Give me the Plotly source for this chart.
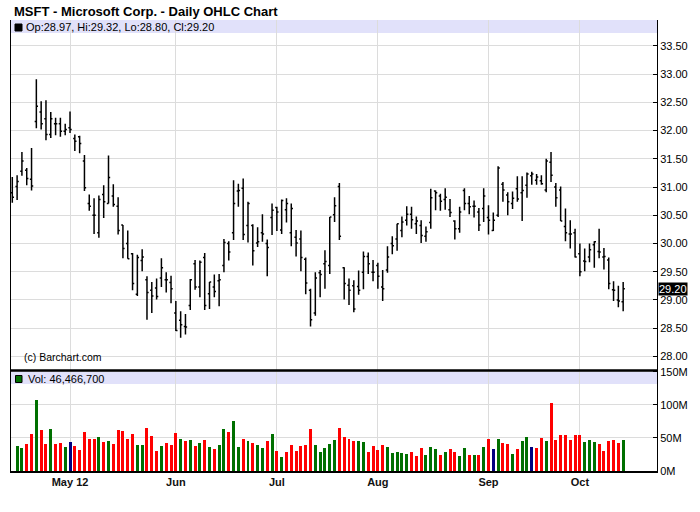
import plotly.graph_objects as go

# ---------------- data (trading-day index 0..127, Apr 13 - Oct 12 2012) ----------------
month_tick_idx = [12, 34, 55, 76, 99, 118]
month_labels = ["May 12", "Jun", "Jul", "Aug", "Sep", "Oct"]

opens = [30.90, 31.01, 31.28, 31.30, 31.14, 32.16, 32.33, 32.21, 31.93, 32.12,
         32.12, 31.99, 32.05, 31.86, 31.89, 31.46, 30.71, 30.50, 30.19, 30.87,
         30.71, 30.84, 30.66, 30.33, 30.00, 29.82, 29.10, 29.70, 29.36, 29.17,
         29.21, 29.39, 29.36, 29.31, 28.77, 28.64, 28.53, 28.90, 29.64, 29.23,
         29.75, 29.11, 29.23, 29.34, 29.61, 30.00, 30.19, 30.93, 30.98, 30.32,
         30.32, 30.01, 30.19, 30.00, 30.46, 30.64, 30.24, 30.60, 30.19, 30.11,
         30.08, 29.72, 29.17, 28.77, 29.48, 29.64, 29.61, 30.51, 31.01, 29.57,
         29.26, 29.25, 29.24, 29.49, 29.77, 29.49, 29.61, 29.23, 29.53, 30.00,
         30.08, 30.23, 30.41, 30.52, 30.35, 30.32, 30.13, 30.37, 30.93, 30.84,
         30.78, 30.60, 30.40, 30.26, 30.94, 30.71, 30.66, 30.56, 30.62, 30.46,
         30.23, 30.50, 31.05, 30.86, 30.71, 30.97, 30.90, 31.03, 31.20, 31.12,
         31.11, 30.95, 31.44, 31.00, 30.95, 30.30, 30.17, 30.19, 29.82, 29.69,
         29.76, 29.98, 29.86, 29.76, 29.71, 29.18, 29.00, 28.97]
highs = [31.18, 31.21, 31.62, 31.34, 31.69, 32.91, 32.52, 32.54, 32.33, 32.23,
         32.23, 32.12, 32.34, 31.93, 31.91, 31.57, 30.87, 30.80, 30.85, 31.03,
         31.56, 31.05, 30.82, 30.33, 30.23, 29.83, 29.80, 29.90, 29.42, 29.32,
         29.38, 29.74, 29.49, 29.43, 28.98, 28.80, 28.75, 29.37, 29.71, 29.70,
         29.83, 29.32, 29.45, 29.46, 30.08, 30.04, 31.12, 31.06, 31.15, 30.74,
         30.34, 30.29, 30.52, 30.07, 30.71, 30.65, 30.78, 30.80, 30.71, 30.24,
         30.23, 29.75, 29.20, 29.49, 29.53, 29.88, 30.47, 30.82, 31.07, 29.58,
         29.38, 29.35, 29.52, 29.86, 29.84, 29.71, 29.66, 29.53, 29.95, 30.13,
         30.35, 30.48, 30.66, 30.65, 30.48, 30.41, 30.30, 30.97, 30.94, 30.88,
         30.98, 30.79, 30.41, 30.65, 30.98, 30.84, 30.76, 30.63, 30.98, 30.68,
         30.55, 31.37, 31.09, 30.91, 30.92, 31.19, 31.19, 31.26, 31.27, 31.23,
         31.21, 31.50, 31.62, 31.07, 31.01, 30.62, 30.41, 30.26, 30.00, 29.91,
         30.00, 30.04, 30.26, 29.92, 29.75, 29.33, 29.25, 29.32]
lows = [30.72, 30.77, 31.20, 31.03, 30.94, 32.04, 32.02, 31.83, 31.87, 31.92,
        31.89, 31.92, 31.96, 31.64, 31.60, 30.93, 30.58, 30.17, 30.10, 30.45,
        30.71, 30.65, 30.16, 29.74, 29.73, 29.17, 29.07, 29.51, 28.65, 28.77,
        29.01, 29.23, 29.13, 28.94, 28.45, 28.33, 28.39, 28.82, 29.18, 29.05,
        28.82, 28.84, 29.05, 28.89, 29.49, 29.70, 30.06, 30.65, 30.06, 30.02,
        29.61, 29.94, 30.03, 29.42, 30.15, 30.22, 30.17, 30.37, 29.95, 29.77,
        29.51, 29.10, 28.53, 28.72, 29.05, 29.20, 29.46, 30.38, 30.06, 29.01,
        28.91, 28.78, 29.09, 29.19, 29.46, 29.33, 29.20, 28.98, 29.48, 29.81,
        29.87, 30.11, 30.32, 30.26, 30.17, 30.01, 30.03, 30.26, 30.59, 30.58,
        30.60, 30.47, 30.07, 30.19, 30.59, 30.52, 30.46, 30.22, 30.38, 30.16,
        30.22, 30.47, 30.74, 30.50, 30.61, 30.74, 30.40, 30.81, 31.04, 31.04,
        31.04, 30.91, 31.09, 30.65, 30.40, 30.04, 29.91, 29.75, 29.42, 29.51,
        29.67, 29.57, 29.74, 29.54, 29.19, 28.98, 28.87, 28.80]
closes = [30.82, 31.10, 31.46, 31.15, 31.02, 32.43, 32.12, 31.93, 32.21, 32.12,
          31.99, 32.02, 32.02, 31.81, 31.77, 30.99, 30.66, 30.50, 30.78, 30.74,
          31.17, 30.69, 30.23, 29.91, 29.73, 29.29, 29.75, 29.76, 29.13, 29.07,
          29.06, 29.57, 29.36, 29.20, 28.46, 28.56, 28.52, 29.36, 29.23, 29.67,
          28.90, 29.32, 29.15, 29.36, 30.02, 29.85, 30.71, 30.94, 30.16, 30.71,
          29.87, 30.03, 30.17, 29.93, 30.59, 30.56, 30.76, 30.71, 30.62, 30.01,
          29.75, 29.30, 28.65, 29.39, 29.45, 29.68, 30.47, 30.67, 30.13, 29.29,
          29.17, 28.84, 29.17, 29.77, 29.64, 29.49, 29.42, 29.20, 29.76, 29.96,
          30.35, 30.38, 30.52, 30.42, 30.40, 30.14, 30.21, 30.81, 30.90, 30.75,
          30.82, 30.55, 30.26, 30.56, 30.71, 30.65, 30.66, 30.33, 30.84, 30.41,
          30.41, 31.34, 30.95, 30.74, 30.80, 30.79, 30.94, 31.23, 31.23, 31.18,
          31.06, 31.46, 31.21, 30.81, 30.40, 30.19, 30.17, 29.76, 29.50, 29.68,
          29.89, 30.03, 29.85, 29.77, 29.29, 29.17, 28.98, 29.20]
volume_m = [None, 37.8, 34.8, 40.8, 55.9, 107.3, 62.0, 40.8, 63.5, 40.8,
            42.3, 36.3, 43.8, 37.8, 31.7, 58.9, 48.4, 48.4, 51.4, 43.8,
            45.3, 40.8, 62.0, 60.5, 48.4, 55.9, 39.3, 39.3, 65.0, 52.9,
            30.2, 37.8, 42.3, 39.3, 57.4, 48.4, 45.3, 46.9, 37.8, 42.3,
            46.9, 36.3, 33.2, 39.3, 63.5, 58.9, 75.6, 36.3, 48.4, 45.3,
            42.3, 39.3, 34.8, 45.3, 55.9, 30.2, 21.2, 28.7, 39.3, 30.2,
            37.8, 39.3, 63.5, 39.3, 28.7, 34.8, 40.8, 46.9, 65.0, 51.4,
            48.4, 45.3, 45.3, 43.8, 28.7, 37.8, 31.7, 39.3, 36.3, 27.2,
            28.7, 27.2, 25.7, 28.7, 22.7, 34.8, 24.2, 36.3, 33.2, 24.2,
            28.7, 33.2, 28.7, 22.7, 34.8, 24.2, 24.2, 24.2, 36.3, 48.4,
            33.2, 48.4, 42.3, 40.8, 25.7, 33.2, 45.3, 51.4, 36.3, 34.8,
            49.9, 45.3, 102.8, 46.9, 54.4, 54.4, 46.9, 54.4, 54.4, 43.8,
            46.9, 43.8, 40.8, 30.2, 45.3, 46.9, 42.3, 46.466700]
price_ticks = [28.0, 28.5, 29.0, 29.5, 30.0, 30.5, 31.0, 31.5, 32.0, 32.5, 33.0, 33.5]
vol_ticks_m = [0, 50, 100, 150]

# ---------------- derived ----------------
idx = list(range(len(closes)))
vol = [None if v is None else v * 1e6 for v in volume_m]
UP, DOWN, FLAT = "#007000", "#FF0000", "#000080"
vcolors = [FLAT]
for i in range(1, len(closes)):
    d = round(closes[i] - closes[i - 1], 4)
    vcolors.append(UP if d > 0 else (DOWN if d < 0 else FLAT))

W, H = 700, 512
ML, MR, MT, MB = 11, 43, 20, 41
PW, PH = W - ML - MR, H - MT - MB
split = (H - MB - 370.5) / PH  # boundary between panels

def px_x(px):
    return (px - ML) / PW

def px_y(py):
    return (H - MB - py) / PH

FONT = "Liberation Sans, Arial, sans-serif"
GRID = "#DCDCDC"

fig = go.Figure()
fig.add_trace(go.Ohlc(
    x=idx, open=opens, high=highs, low=lows, close=closes,
    increasing=dict(line=dict(color="black", width=1.5)),
    decreasing=dict(line=dict(color="black", width=1.5)),
    tickwidth=0.35, xaxis="x", yaxis="y", hoverinfo="skip",
))
fig.add_trace(go.Bar(
    x=idx, y=vol, marker=dict(color=vcolors, line=dict(width=0)),
    width=0.62, xaxis="x2", yaxis="y2", hoverinfo="skip",
))

xr = [(ML - 12.3) / 4.81, (W - MR - 12.3) / 4.81]
common_x = dict(range=xr, tickmode="array", tickvals=month_tick_idx, showgrid=True,
                gridcolor=GRID, gridwidth=1, zeroline=False, fixedrange=True)

fig.update_layout(
    width=W, height=H, margin=dict(l=ML, r=MR, t=MT, b=MB, autoexpand=False),
    paper_bgcolor="white", plot_bgcolor="white", showlegend=False,
    font=dict(family=FONT, size=11, color="black"),
    xaxis=dict(**common_x, domain=[0, 1], anchor="y", showticklabels=False,
               rangeslider=dict(visible=False), showline=False),
    xaxis2=dict(**common_x, domain=[0, 1], anchor="y2", matches="x",
                ticktext=month_labels, ticks="",
                tickfont=dict(family=FONT, size=11, color="#111111", weight="bold"),
                showline=True, linecolor="black", linewidth=1.5),
    yaxis=dict(domain=[split, 1], range=[27.75, 33.96], side="right",
               tickvals=price_ticks, ticktext=[f"{v:.2f}" for v in price_ticks],
               ticks="inside", ticklen=4, tickcolor="black",
               showgrid=True, gridcolor=GRID, zeroline=False,
               showline=True, mirror=True, linecolor="black", linewidth=1,
               tickfont=dict(family=FONT, size=11), fixedrange=True),
    yaxis2=dict(domain=[0, split], range=[0, 151.8e6], side="right",
                tickvals=[v * 1e6 for v in vol_ticks_m],
                ticktext=[f"{v}M" for v in vol_ticks_m],
                ticks="inside", ticklen=4, tickcolor="black",
                showgrid=True, gridcolor=GRID, zeroline=False,
                showline=True, mirror=True, linecolor="black", linewidth=1,
                tickfont=dict(family=FONT, size=11), fixedrange=True),
    bargap=0,
)

LAV = "#E1E1FA"
shapes = [
    # header bands
    dict(type="rect", xref="paper", yref="paper", x0=0, x1=1,
         y0=px_y(33), y1=1, fillcolor=LAV, line=dict(width=0), layer="below"),
    dict(type="rect", xref="paper", yref="paper", x0=0, x1=1,
         y0=px_y(384), y1=split, fillcolor=LAV, line=dict(width=0), layer="below"),
    # legend squares
    dict(type="rect", xref="paper", yref="paper", x0=px_x(15), x1=px_x(22),
         y0=px_y(31), y1=px_y(24), fillcolor="black", line=dict(color="black", width=1)),
    dict(type="rect", xref="paper", yref="paper", x0=px_x(15.5), x1=px_x(22),
         y0=px_y(382.5), y1=px_y(375.5), fillcolor=UP, line=dict(color="black", width=1)),
    # panel separator
    dict(type="line", xref="paper", yref="paper", x0=0, x1=1, y0=split, y1=split,
         line=dict(color="black", width=2.5)),
]

annotations = [
    dict(text="<b>MSFT - Microsoft Corp. - Daily OHLC Chart</b>", xref="paper", yref="paper",
         x=px_x(12), y=px_y(12), xanchor="left", yanchor="middle", showarrow=False,
         font=dict(family=FONT, size=13, color="black")),
    dict(text=f"Op:{opens[-1]:.2f}, Hi:{highs[-1]:.2f}, Lo:{lows[-1]:.2f}, Cl:{closes[-1]:.2f}",
         xref="paper", yref="paper", x=px_x(24), y=px_y(27.5), xanchor="left",
         yanchor="middle", showarrow=False, font=dict(family=FONT, size=11, color="black")),
    dict(text=f"Vol: {int(round(volume_m[-1] * 1e6)):,}", xref="paper", yref="paper",
         x=px_x(26), y=px_y(379), xanchor="left", yanchor="middle", showarrow=False,
         font=dict(family=FONT, size=11, color="black")),
    dict(text="(c) Barchart.com", xref="paper", yref="paper", x=px_x(22), y=px_y(357),
         xanchor="left", yanchor="middle", showarrow=False,
         font=dict(family=FONT, size=10.5, color="black")),
    dict(text=f"{closes[-1]:.2f}", xref="paper", yref="y", x=1, y=closes[-1],
         xshift=1, xanchor="left", yanchor="middle", showarrow=False,
         bgcolor="black", borderpad=0, font=dict(family=FONT, size=11, color="white")),
]
fig.update_layout(shapes=shapes, annotations=annotations)

fig.write_html("out.html", config={"displayModeBar": False, "staticPlot": True},
               post_script="document.body.style.margin='0';")
